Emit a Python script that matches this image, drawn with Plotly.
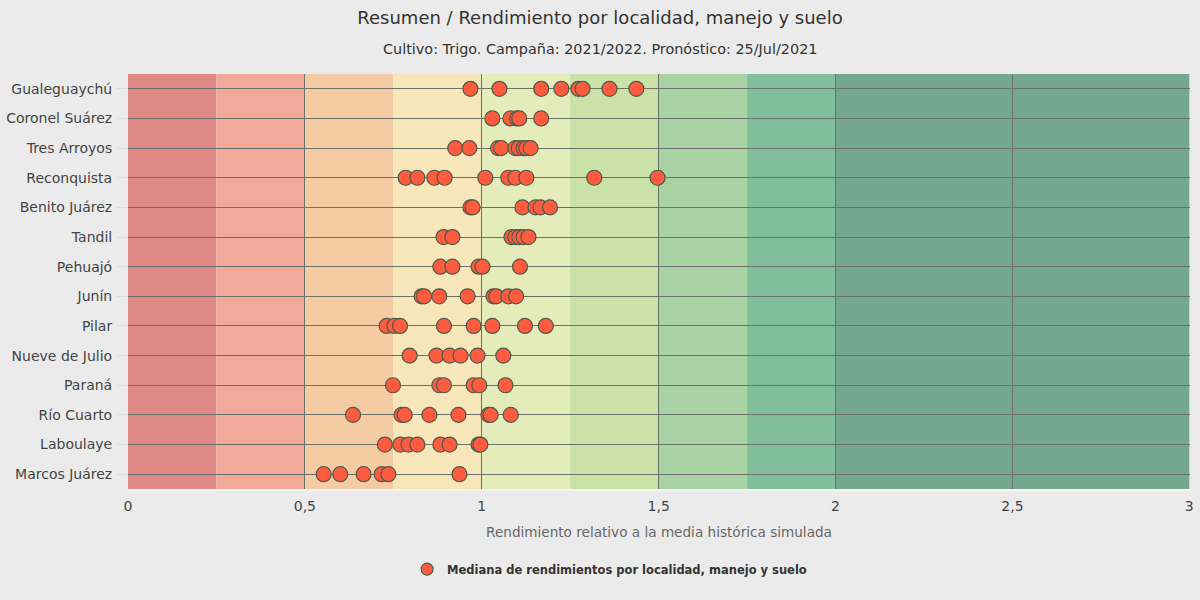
import plotly.graph_objects as go

# Localidades, de arriba hacia abajo
localidades = ["Gualeguaychú", "Coronel Suárez", "Tres Arroyos", "Reconquista",
               "Benito Juárez", "Tandil", "Pehuajó", "Junín", "Pilar",
               "Nueve de Julio", "Paraná", "Río Cuarto", "Laboulaye", "Marcos Juárez"]

# Medianas
gualeguaychu = [0.968, 1.05, 1.168, 1.225, 1.273, 1.285, 1.361, 1.437]
coronel_suarez = [1.03, 1.081, 1.10, 1.106, 1.168]
tres_arroyos = [0.925, 0.965, 1.046, 1.055, 1.095, 1.104, 1.118, 1.126, 1.138]
reconquista = [0.785, 0.818, 0.866, 0.895, 1.01, 1.075, 1.095, 1.126, 1.318, 1.497]
benito_juarez = [0.968, 0.974, 1.115, 1.152, 1.166, 1.193]
tandil = [0.892, 0.917, 1.084, 1.095, 1.106, 1.118, 1.132]
pehuajo = [0.883, 0.917, 0.991, 1.002, 1.108]
junin = [0.83, 0.837, 0.88, 0.96, 1.033, 1.041, 1.075, 1.097]
pilar = [0.731, 0.753, 0.769, 0.893, 0.977, 1.03, 1.122, 1.181]
nueve_de_julio = [0.796, 0.872, 0.909, 0.94, 0.988, 1.061]
parana = [0.749, 0.88, 0.893, 0.977, 0.993, 1.067]
rio_cuarto = [0.636, 0.773, 0.782, 0.852, 0.934, 1.019, 1.025, 1.082]
laboulaye = [0.726, 0.77, 0.793, 0.818, 0.883, 0.909, 0.991, 0.996]
marcos_juarez = [0.553, 0.6, 0.666, 0.717, 0.736, 0.937]

medianas = [gualeguaychu, coronel_suarez, tres_arroyos, reconquista, benito_juarez,
            tandil, pehuajo, junin, pilar, nueve_de_julio, parana, rio_cuarto,
            laboulaye, marcos_juarez]

# Bandas de fondo
bandas_desde = [0, 0.25, 0.5, 0.75, 1, 1.25, 1.5, 1.75, 2]
bandas_hasta = [0.25, 0.5, 0.75, 1, 1.25, 1.5, 1.75, 2, 3]
bandas_color = ["#E08A87", "#F1A999", "#F4CBA2", "#F8E6BB", "#E4ECBB",
                "#CAE2A8", "#A8D2A3", "#82C09B", "#74A78D"]

NOMBRE = 'Mediana de rendimientos por localidad, manejo y suelo'

xs = []
ys = []
for loc, vals in zip(localidades, medianas):
    xs += vals
    ys += [loc] * len(vals)

fig = go.Figure()

fig.add_trace(go.Scatter(
    x=xs,
    y=ys,
    mode='markers',
    name=NOMBRE,
    showlegend=False,
    marker=dict(size=15, color='#FF5C3F', line=dict(color='#4D5B4A', width=1.2)),
    cliponaxis=False
))

# Entrada de leyenda con marcador mas chico
fig.add_trace(go.Scatter(
    x=[None],
    y=[None],
    mode='markers',
    name=NOMBRE,
    marker=dict(size=12, color='#FF5C3F', line=dict(color='#4D5B4A', width=1.2))
))

for x0, x1, color in zip(bandas_desde, bandas_hasta, bandas_color):
    fig.add_vrect(x0=x0, x1=x1, fillcolor=color, line_width=0, layer='below')

fig.update_layout(
    width=1200,
    height=600,
    paper_bgcolor='#EBEBEB',
    plot_bgcolor='#EBEBEB',
    separators=',.',
    font=dict(family='DejaVu Sans', color='#444444'),
    margin=dict(l=128, r=10, t=74, b=111),
    title=dict(text='Resumen / Rendimiento por localidad, manejo y suelo',
               x=0.5, xanchor='center', y=0.97, yanchor='middle',
               font=dict(size=18, color='#333333')),
    legend=dict(orientation='h', x=0.4535, xanchor='center', y=-0.193, yanchor='middle',
                font=dict(size=11.5, color='#333333', weight='bold'),
                itemwidth=30,
                bgcolor='rgba(0,0,0,0)'),
    showlegend=True
)

fig.add_annotation(text='Cultivo: Trigo. Campaña: 2021/2022. Pronóstico: 25/Jul/2021',
                   xref='paper', yref='paper', x=0.4444, xanchor='center',
                   y=1.06, yanchor='middle', showarrow=False,
                   font=dict(size=14.4, color='#333333'))

fig.update_xaxes(
    range=[0, 3.002],
    dtick=0.5,
    automargin=False,
    showgrid=True,
    gridcolor='#6B716B',
    gridwidth=1,
    zeroline=False,
    showline=True,
    linecolor='#F4F4F4',
    linewidth=2,
    ticks='',
    ticklabelstandoff=3,
    tickfont=dict(size=14, color='#444444'),
    title=dict(text='Rendimiento relativo a la media histórica simulada',
               font=dict(size=13.6, color='#666666'), standoff=15)
)
fig.update_yaxes(
    categoryorder='array',
    categoryarray=localidades,
    range=[13.5, -0.5],
    automargin=False,
    showgrid=True,
    gridcolor='#6B716B',
    gridwidth=1,
    zeroline=False,
    ticks='outside',
    ticklen=10,
    tickcolor='#D8DEDE',
    ticklabelstandoff=2,
    tickfont=dict(size=14, color='#444444')
)

fig.write_html("out.html", config=dict(displayModeBar=False),
               post_script="document.body.style.margin='0';")
